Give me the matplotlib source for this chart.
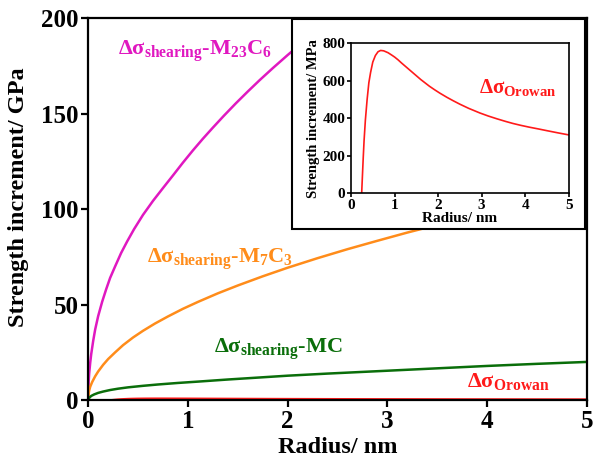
import matplotlib
matplotlib.use('Agg')
import matplotlib.pyplot as plt
from matplotlib.patches import Rectangle

plt.rcParams['font.family'] = ['Liberation Serif', 'DejaVu Serif']
plt.rcParams['font.weight'] = 'bold'
plt.rcParams['mathtext.fontset'] = 'custom'
plt.rcParams['mathtext.rm'] = 'Liberation Serif:bold'
plt.rcParams['mathtext.it'] = 'Liberation Serif:bold'
plt.rcParams['mathtext.bf'] = 'Liberation Serif:bold'

# radius (nm) vs strength increment (GPa)
r_m23c6 = [0, 0.005, 0.01, 0.02, 0.03, 0.05, 0.07, 0.1, 0.14, 0.18, 0.22, 0.27, 0.33, 0.39,
           0.46, 0.55, 0.65, 0.75, 0.85, 0.95, 1.05, 1.15, 1.25, 1.36, 1.48, 1.6, 1.72,
           1.85, 2.0, 2.15, 2.3, 2.45]
s_m23c6 = [0, 10, 14, 19.5, 24, 31, 37, 44, 51.5, 58, 64, 70, 77, 83,
           89.5, 97, 104.3, 111, 117.6, 124.3, 130.7, 136.8, 142.6, 148.8, 155.3, 161.5, 167.5,
           173.7, 180.6, 187.3, 193.8, 200]

r_m7c3 = [0, 0.005, 0.01, 0.02, 0.04, 0.07, 0.1, 0.15, 0.2, 0.27, 0.35, 0.45, 0.55, 0.67,
          0.8, 0.95, 1.1, 1.3, 1.5, 1.75, 2.0, 2.3, 2.6, 2.9, 3.2, 3.5, 3.8, 4.1, 4.4, 4.7, 5.0]
s_m7c3 = [0, 3.5, 5, 7, 9.5, 12.5, 15, 18.5, 21.5, 25, 28.8, 32.8, 36.3, 40.1,
          43.8, 47.8, 51.4, 55.9, 60.0, 64.8, 69.3, 74.3, 79, 83.4, 87.7, 91.7, 95.5, 99.2,
          102.8, 106.2, 109.6]

r_mc = [0, 0.01, 0.03, 0.06, 0.1, 0.15, 0.22, 0.3, 0.4, 0.55, 0.7, 0.9, 1.1, 1.4, 1.7,
        2.0, 2.4, 2.8, 3.2, 3.6, 4.0, 4.5, 5.0]
s_mc = [0, 1.2, 2.2, 3.0, 3.8, 4.5, 5.3, 6.0, 6.7, 7.5, 8.2, 9.0, 9.7, 10.8, 11.8,
        12.8, 13.9, 14.9, 15.9, 16.9, 17.9, 19.0, 20.0]

# Orowan, MPa
r_oro = [0.245, 0.26, 0.28, 0.30, 0.33, 0.37, 0.41, 0.45, 0.50, 0.56, 0.62, 0.68, 0.75, 0.85,
         0.93, 1.0, 1.08, 1.16, 1.28, 1.4, 1.5, 1.6, 1.7, 1.8, 1.92, 2.04, 2.2, 2.35, 2.5,
         2.7, 2.96, 3.15, 3.35, 3.55, 3.72, 3.9, 4.1, 4.3, 4.49, 4.75, 5.0]
s_oro = [0, 80, 185, 280, 390, 500, 590, 645, 700, 735, 755, 762, 760, 750,
         738, 727, 712, 695, 671, 647, 627, 607, 589, 571, 552, 534, 512, 493, 475,
         453, 428, 412, 397, 383, 372, 362, 352, 343, 334, 322, 311]

magenta = '#e018c0'
orange = '#ff8c1a'
green = '#0a6e0a'
red = '#ff1a1a'

fig = plt.figure(figsize=(6, 4.61), dpi=100)
ax = fig.add_axes([0.147, 0.132, 0.831, 0.829])

ax.plot(r_m23c6, s_m23c6, color=magenta, lw=1.8)
ax.plot(r_m7c3, s_m7c3, color=orange, lw=1.8)
ax.plot(r_mc, s_mc, color=green, lw=1.8)
ax.plot(r_oro, [v / 1000 for v in s_oro], color=red, lw=1.8)

ax.set_xlim(0, 5)
ax.set_ylim(0, 200)
ax.set_xticks([0, 1, 2, 3, 4, 5])
ax.set_yticks([0, 50, 100, 150, 200])
for s in ax.spines.values():
    s.set_linewidth(1.6)
ax.tick_params(direction='out', length=5, width=1.6, labelsize=18, pad=2)
ax.set_xlabel('Radius/ nm', fontsize=17.5, fontweight='bold', labelpad=3)
ax.set_ylabel('Strength increment/ GPa', fontsize=17.5, fontweight='bold')
ax.yaxis.set_label_coords(-0.118, 0.53)

ax.text(0.30, 180.5, r'Δσ$_{\mathrm{shearing}}$-M$_{23}$C$_{6}$', color=magenta, fontsize=16)
ax.text(0.59, 72, r'Δσ$_{\mathrm{shearing}}$-M$_{7}$C$_{3}$', color=orange, fontsize=16)
ax.text(1.26, 24.6, r'Δσ$_{\mathrm{shearing}}$-MC', color=green, fontsize=16)
ax.text(3.8, 6.8, r'Δσ$_{\mathrm{Orowan}}$', color=red, fontsize=16)

# inset frame
frame = Rectangle((0.487, 0.503), 0.488, 0.456, transform=fig.transFigure,
                  facecolor='white', edgecolor='black', lw=1.5, zorder=5)
fig.patches.append(frame)

ins = fig.add_axes([0.585, 0.581, 0.363, 0.325], zorder=6)
ins.plot(r_oro, s_oro, color=red, lw=1.2)
ins.set_xlim(0, 5)
ins.set_ylim(0, 800)
ins.set_xticks([0, 1, 2, 3, 4, 5])
ins.set_yticks([0, 200, 400, 600, 800])
for s in ins.spines.values():
    s.set_linewidth(1.2)
ins.tick_params(direction='out', length=3, width=1.2, labelsize=11, pad=1)
ins.set_xlabel('Radius/ nm', fontsize=11, fontweight='bold', labelpad=0)
ins.set_ylabel('Strength increment/ MPa', fontsize=10.5, fontweight='bold', labelpad=2)
ins.text(2.94, 533, r'Δσ$_{\mathrm{Orowan}}$', color=red, fontsize=15)

fig.savefig('out.png', dpi=100)
